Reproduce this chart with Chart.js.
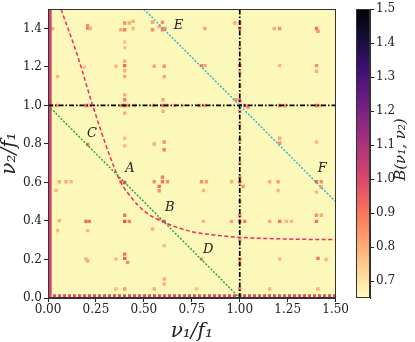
<!DOCTYPE html>
<html>
<head>
<meta charset="utf-8">
<script src="https://cdn.jsdelivr.net/npm/chart.js@4.4.1/dist/chart.umd.min.js"></script>
<style>
  html, body { margin: 0; padding: 0; background: #fff; }
  #wrap { position: relative; width: 415px; height: 342px; }
  #main { position: absolute; left: 0; top: 0; }
  #cbar { position: absolute; left: 340px; top: 0; }
</style>
</head>
<body>
<div id="wrap">
  <canvas id="main" width="350" height="342"></canvas>
  <canvas id="cbar" width="75" height="342"></canvas>
</div>
<script>
'use strict';

/* ── Data ── */
const xTicks = [0, 0.25, 0.5, 0.75, 1.0, 1.25, 1.5];
const yTicks = [0, 0.2, 0.4, 0.6, 0.8, 1.0, 1.2, 1.4];
const cbarTicks = [0.7, 0.8, 0.9, 1.0, 1.1, 1.2, 1.3, 1.4, 1.5];
const B_MIN = 0.65, B_MAX = 1.5;

// bright cells of B(nu1, nu2)
const spotNu1 = [
  0.024, 0.207, 0.207, 0.22, 0.38, 0.40, 0.40, 0.424, 0.444, 0.444, 0.545, 0.545, 0.58, 0.597, 0.597, 0.61,
  0.40, 0.40, 0.40, 0.40, 0.40, 0.40, 0.354, 0.19, 0.554, 0.606, 0.606, 0.05,
  0.02, 0.05, 0.20, 0.22, 0.38, 0.40, 0.42, 0.45, 0.55, 0.60, 0.62, 0.66, 0.70,
  0.40, 0.40, 0.60, 0.40, 0.60,
  0.207, 0.40, 0.40, 0.554, 0.606, 0.606,
  0.818, 1.0, 1.0, 0.974, 1.18, 1.208, 1.40, 1.408,
  0.80, 0.818, 1.0, 1.0, 1.0, 1.208, 1.40, 1.40, 1.0, 1.0,
  0.79, 0.818, 1.0, 1.0, 1.026, 1.043, 0.98, 1.0, 1.208, 1.234, 1.40, 1.417,
  1.0, 1.208, 1.208, 1.40, 1.0,
  0.059, 0.094, 0.12, 0.042, 0.38, 0.40,
  0.554, 0.597, 0.597, 0.58, 0.58, 0.623,
  0.059, 0.198, 0.215, 0.40, 0.40, 0.424, 0.606, 0.58,
  0.545, 0.05, 0.207, 0.40, 0.40, 0.415, 0.198, 0.207, 0.354,
  0.606, 0.606, 0.354, 0.40, 0.554, 0.606,
  0.80, 0.826, 0.81, 0.957, 1.0, 1.0, 1.017, 1.156, 1.20, 1.20,
  1.40, 1.425, 1.425, 1.40,
  0.81, 0.957, 1.0, 1.0, 1.026, 1.156, 1.208, 1.243, 1.27, 1.40, 1.40, 1.425,
  1.0, 1.0, 0.80, 1.208, 1.408, 1.45,
  1.0, 1.0, 1.408, 1.156, 0.775, 1.0, 1.0, 1.0
];
const spotNu2 = [
  1.40, 1.402, 1.414, 1.40, 1.393, 1.393, 1.428, 1.428, 1.437, 1.40, 1.432, 1.393, 1.41, 1.432, 1.393, 1.40,
  1.30, 1.33, 1.23, 1.207, 1.18, 1.151, 1.204, 1.20, 1.204, 1.204, 1.15, 1.15,
  1.0, 1.0, 1.0, 1.0, 1.0, 1.0, 1.0, 1.0, 1.0, 1.0, 1.0, 1.0, 1.0,
  1.03, 1.055, 0.97, 0.96, 1.03,
  0.797, 0.79, 0.83, 0.80, 0.81, 0.77,
  1.40, 1.40, 1.428, 1.428, 1.40, 1.40, 1.40, 1.385,
  1.207, 1.207, 1.207, 1.238, 1.17, 1.207, 1.207, 1.178, 1.10, 1.30,
  1.0, 1.0, 1.0, 1.026, 1.0, 0.99, 1.03, 0.97, 1.0, 1.0, 1.0, 1.0,
  0.82, 0.805, 0.83, 0.81, 0.90,
  0.604, 0.604, 0.604, 0.558, 0.604, 0.60,
  0.604, 0.604, 0.627, 0.58, 0.557, 0.604,
  0.402, 0.398, 0.398, 0.43, 0.398, 0.398, 0.398, 0.41,
  0.358, 0.35, 0.35, 0.206, 0.228, 0.185, 0.202, 0.192, 0.202,
  0.098, 0.072, 0.047, 0.047, 0.047, 0.272,
  0.604, 0.604, 0.558, 0.604, 0.604, 0.627, 0.58, 0.604, 0.604, 0.558,
  0.604, 0.604, 0.575, 0.55,
  0.398, 0.398, 0.398, 0.43, 0.398, 0.398, 0.398, 0.398, 0.398, 0.398, 0.43, 0.43,
  0.202, 0.176, 0.202, 0.202, 0.206, 0.20,
  0.047, 0.013, 0.047, 0.047, 0.047, 0.30, 0.50, 0.70
];
const spotB = [
  0.80, 0.90, 0.85, 0.80, 0.80, 0.88, 0.85, 0.80, 0.80, 0.78, 0.82, 0.85, 0.80, 0.85, 0.88, 0.85,
  0.76, 0.76, 0.80, 0.92, 0.80, 0.80, 0.78, 0.77, 0.82, 0.85, 0.82, 0.78,
  0.85, 0.80, 0.90, 0.82, 0.85, 0.95, 0.85, 0.78, 0.85, 0.90, 0.85, 0.82, 0.78,
  0.88, 0.80, 0.80, 0.80, 0.80,
  0.90, 0.78, 0.77, 0.80, 0.85, 0.88,
  0.82, 0.92, 0.85, 0.80, 0.80, 0.85, 0.90, 0.85,
  0.85, 0.82, 0.95, 0.85, 0.82, 0.78, 0.85, 0.80, 0.80, 0.80,
  0.85, 0.82, 1.05, 0.95, 0.95, 0.85, 0.85, 0.85, 0.90, 0.85, 0.90, 0.80,
  0.85, 0.85, 0.80, 0.78, 0.80,
  0.80, 0.80, 0.78, 0.78, 0.88, 0.95,
  0.85, 0.90, 0.88, 0.90, 0.85, 0.85,
  0.80, 0.92, 0.90, 0.90, 0.97, 0.88, 0.95, 0.85,
  0.80, 0.78, 0.78, 0.95, 0.90, 0.85, 0.80, 0.80, 0.78,
  0.80, 0.80, 0.78, 0.82, 0.80, 0.77,
  0.85, 0.82, 0.78, 0.80, 0.92, 0.85, 0.85, 0.80, 0.82, 0.78,
  0.92, 0.85, 0.80, 0.78,
  0.78, 0.82, 0.95, 0.88, 0.88, 0.80, 0.90, 0.78, 0.78, 0.90, 0.85, 0.80,
  0.90, 0.85, 0.85, 0.78, 0.90, 0.78,
  0.85, 1.00, 0.80, 0.78, 0.77, 0.82, 0.82, 0.82
];

// zero-frequency edges (strong row / column)
const edgeRow = [[0, 0.011], [1.5, 0.011]];
const edgeCol = [[0.01, 0], [0.01, 1.5]];

// dashed curve through A and B
const curveNu1 = [0.068, 0.155, 0.233, 0.316, 0.375, 0.441, 0.51, 0.606, 0.748, 0.87, 1.0, 1.26, 1.5];
const curveNu2 = [1.5, 1.255, 1.0, 0.755, 0.61, 0.514, 0.445, 0.393, 0.345, 0.327, 0.315, 0.306, 0.303];

// straight guide lines
const sumLine1 = [[0, 1.0], [1.0, 0]];    // nu1 + nu2 = f1
const sumLine2 = [[0.5, 1.5], [1.5, 0.5]]; // nu1 + nu2 = 2 f1
const hLine = [[0, 1.0], [1.5, 1.0]];
const vLine = [[1.0, 0], [1.0, 1.5]];

// point labels
const labelText = ['A', 'B', 'C', 'D', 'E', 'F'];
const labelNu1 = [0.427, 0.635, 0.229, 0.835, 0.68, 1.43];
const labelNu2 = [0.673, 0.471, 0.852, 0.251, 1.416, 0.673];

/* ── Colormap (magma, reversed) ── */
const MAGMA = ['#000004', '#140e36', '#3b0f70', '#641a80', '#8c2981', '#b73779',
               '#de4968', '#f7705c', '#fe9f6d', '#fecf92', '#fcfdbf'];
const hex = (h) => [1, 3, 5].map(i => parseInt(h.substr(i, 2), 16));
const magmaR = (v) => {
  let t = (v - B_MIN) / (B_MAX - B_MIN);
  t = Math.min(1, Math.max(0, t));
  const s = (1 - t) * 10;
  const i = Math.min(9, Math.floor(s));
  const f = s - i;
  const a = hex(MAGMA[i]), b = hex(MAGMA[i + 1]);
  const c = a.map((x, k) => Math.round(x + (b[k] - x) * f));
  return `rgb(${c[0]},${c[1]},${c[2]})`;
};

const toPts = (arr) => arr.map(([x, y]) => ({ x, y }));

Chart.defaults.font.family = '"DejaVu Serif", serif';
Chart.defaults.font.size = 12;
Chart.defaults.color = '#222';
Chart.defaults.animation = false;
Chart.defaults.plugins.legend.display = false;
Chart.defaults.plugins.tooltip.enabled = false;

/* ── Plugins ── */
const plotBg = {
  id: 'plotBg',
  beforeDatasetsDraw(chart) {
    const { ctx, chartArea: a } = chart;
    ctx.save();
    ctx.fillStyle = '#fbf8b9';
    ctx.fillRect(a.left, a.top, a.right - a.left, a.bottom - a.top);
    ctx.restore();
  },
};

const frame = {
  id: 'frame',
  afterDraw(chart) {
    const { ctx, chartArea: a } = chart;
    ctx.save();
    ctx.strokeStyle = '#333';
    ctx.lineWidth = 1;
    ctx.strokeRect(Math.round(a.left) + 0.5, Math.round(a.top) + 0.5,
                   Math.round(a.right - a.left) - 1, Math.round(a.bottom - a.top) - 1);
    ctx.restore();
  },
};

const pointLabels = {
  id: 'pointLabels',
  afterDatasetsDraw(chart) {
    const { ctx, scales: { x, y } } = chart;
    ctx.save();
    ctx.font = 'italic 13px "DejaVu Serif"';
    ctx.fillStyle = '#222';
    ctx.textAlign = 'center';
    ctx.textBaseline = 'middle';
    labelText.forEach((t, i) => {
      ctx.fillText(t, x.getPixelForValue(labelNu1[i]), y.getPixelForValue(labelNu2[i]));
    });
    ctx.restore();
  },
};

// colour bar label, reading bottom-to-top like matplotlib
const cbarLabel = {
  id: 'cbarLabel',
  afterDraw(chart) {
    const { ctx, chartArea: a } = chart;
    ctx.save();
    ctx.translate(61, (a.top + a.bottom) / 2 - 4);
    ctx.rotate(-Math.PI / 2);
    ctx.font = 'italic 15px "DejaVu Serif"';
    ctx.fillStyle = '#222';
    ctx.textAlign = 'center';
    ctx.textBaseline = 'middle';
    ctx.fillText('B(ν₁, ν₂)', 0, 0);
    ctx.restore();
  },
};

/* ── Main map ── */
const lineDs = (data, color, dash, width, order) => ({
  type: 'scatter',
  data,
  showLine: true,
  borderColor: color,
  borderWidth: width,
  borderDash: dash,
  pointRadius: 0,
  fill: false,
  order,
});

new Chart(document.getElementById('main'), {
  type: 'scatter',
  data: {
    datasets: [
      {
        data: spotNu1.map((x, i) => ({ x, y: spotNu2[i] })),
        pointStyle: 'rect',
        pointRadius: 2.4,
        borderWidth: 0,
        backgroundColor: spotB.map(magmaR),
        order: 10,
      },
      lineDs(toPts(edgeRow), magmaR(0.98), [3, 2], 3.5, 9),
      lineDs(toPts(edgeCol), magmaR(1.02), [], 3.5, 9),
      lineDs(toPts(hLine), '#000', [5, 2, 1.5, 2], 1.7, 5),
      lineDs(toPts(vLine), '#000', [5, 2, 1.5, 2], 1.7, 5),
      lineDs(toPts(sumLine1), '#22a040', [2, 1.6], 1.4, 4),
      lineDs(toPts(sumLine2), '#1fb8cf', [2, 1.6], 1.4, 4),
      Object.assign(
        lineDs(curveNu1.map((x, i) => ({ x, y: curveNu2[i] })), '#f52a5c', [4, 2.5], 1.5, 3),
        { tension: 0.4, cubicInterpolationMode: 'monotone' }
      ),
    ],
  },
  options: {
    responsive: false,
    layout: { padding: { top: 9, right: 14, left: 0, bottom: 0 } },
    scales: {
      x: {
        type: 'linear',
        min: 0, max: 1.5,
        afterFit: (s) => { s.height = 44; },
        afterBuildTicks: (s) => { s.ticks = xTicks.map(v => ({ value: v })); },
        ticks: { callback: (v) => v.toFixed(2), padding: 1, maxRotation: 0, color: '#222' },
        grid: { drawOnChartArea: false, tickLength: 4, color: '#222' },
        border: { color: '#333' },
        title: {
          display: true, text: 'ν₁/f₁', color: '#222',
          font: { size: 20, style: 'italic', lineHeight: 1 },
          padding: { top: 2, bottom: 0 },
        },
      },
      y: {
        type: 'linear',
        min: 0, max: 1.5,
        afterFit: (s) => { s.width = 48; },
        afterBuildTicks: (s) => { s.ticks = yTicks.map(v => ({ value: v })); },
        ticks: { callback: (v) => v.toFixed(1), padding: 2, color: '#222' },
        grid: { drawOnChartArea: false, tickLength: 4, color: '#222' },
        border: { color: '#333' },
        title: {
          display: true, text: 'ν₂/f₁', color: '#222',
          font: { size: 20, style: 'italic', lineHeight: 1 },
          padding: { top: 0, bottom: 2 },
        },
      },
    },
  },
  plugins: [plotBg, pointLabels, frame],
});

/* ── Colour bar ── */
const cbarSlices = [];
for (let v = B_MIN; v < B_MAX - 1e-9; v += 0.01) {
  cbarSlices.push({
    data: [[v, Math.min(B_MAX, v + 0.013)]],
    backgroundColor: magmaR(v + 0.005),
    borderWidth: 0,
    grouped: false,
    barPercentage: 1,
    categoryPercentage: 1,
  });
}

new Chart(document.getElementById('cbar'), {
  type: 'bar',
  data: { labels: [''], datasets: cbarSlices },
  options: {
    responsive: false,
    layout: { padding: { top: 9, left: 16, right: 0, bottom: 44 } },
    scales: {
      x: { display: false },
      y: {
        position: 'right',
        min: B_MIN, max: B_MAX,
        afterFit: (s) => { s.width = 45; },
        afterBuildTicks: (s) => { s.ticks = cbarTicks.map(v => ({ value: v })); },
        ticks: { callback: (v) => v.toFixed(1), padding: 2, color: '#222' },
        grid: { drawOnChartArea: false, tickLength: 4, color: '#222' },
        border: { color: '#333' },
      },
    },
  },
  plugins: [frame, cbarLabel],
});
</script>
</body>
</html>
